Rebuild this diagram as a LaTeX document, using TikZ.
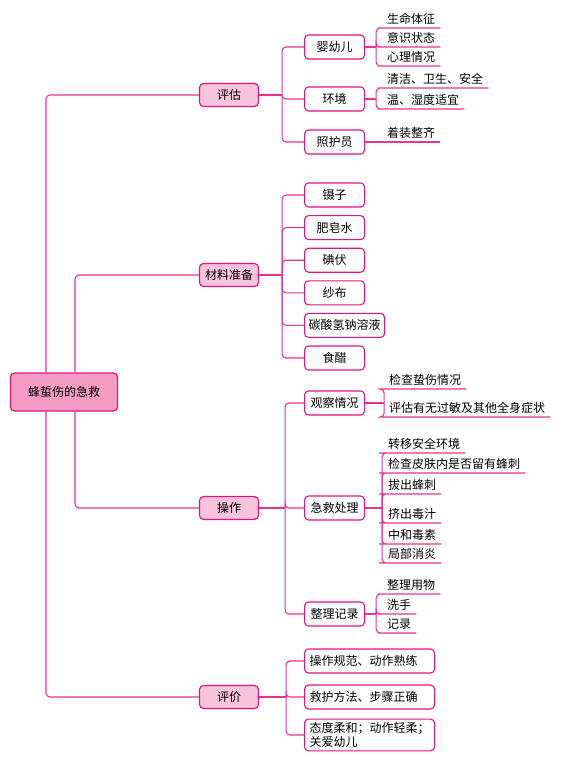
\documentclass[tikz,border=0pt]{standalone}
\usepackage{fontspec}
\setmainfont{Noto Sans CJK SC}
\usepackage{tikz}
\usetikzlibrary{positioning}

\definecolor{bordo}{HTML}{E3127E}
\definecolor{linea}{HTML}{E8348C}
\definecolor{rosa}{HTML}{F29CC3}
\definecolor{rosachiaro}{HTML}{F7C4DB}

\tikzset{
  link/.style={draw=linea, line width=1.1pt, rounded corners=4pt},
  radice/.style={draw=bordo, fill=rosa, line width=1.2pt, rounded corners=4pt,
    minimum width=107pt, minimum height=38pt},
  ramo/.style={draw=bordo, fill=rosachiaro, line width=1.1pt, rounded corners=4pt,
    minimum width=59pt, minimum height=23pt, inner xsep=4pt},
  voce/.style={draw=bordo, fill=white, line width=1.1pt, rounded corners=4pt,
    minimum width=60pt, minimum height=24pt, inner xsep=4pt, anchor=west},
  vocelunga/.style={voce, text width=120pt, inner xsep=5pt, align=left},
  nota/.style={inner xsep=5pt, inner ysep=4pt, text depth=0pt, anchor=south west},
}

\begin{document}
\begin{tikzpicture}[x=1pt, y=-1pt, font=\fontsize{12}{14}\selectfont]
  \useasboundingbox (0,0) rectangle (562,763);

  % radice e primo livello
  \node[radice] (root) at (64,392) {蜂蜇伤的急救};
  \node[ramo] (pg) at (229,95) {评估};
  \node[ramo] (zb) at (229,275) {材料准备};
  \node[ramo] (cz) at (229,508) {操作};
  \node[ramo] (pj) at (229,697) {评价};

  \coordinate (ta) at (46,0);
  \coordinate (tb) at (75,0);
  \draw[link] (root.north -| ta) |- (pg.west);
  \draw[link] (root.south -| ta) |- (pj.west);
  \draw[link] (root.north -| tb) |- (zb.west);
  \draw[link] (root.south -| tb) |- (cz.west);

  % 评估
  \node[voce] (yy) at (304,47) {婴幼儿};
  \node[voce] (hj) at (304,99) {环境};
  \node[voce] (zh) at (304,142) {照护员};
  \path (pg.east) ++(23,0) coordinate (pgT);
  \draw[link] (pg.east) -- (pgT);
  \foreach \n in {yy,hj,zh}
    \draw[link] (pgT) |- (\n.west);

  \node[nota] (a1) at (382,28) {生命体征};
  \node[nota] (a2) at (382,47) {意识状态};
  \node[nota] (a3) at (382,66) {心理情况};
  \path (yy.east) ++(11,0) coordinate (yyT);
  \draw[link] (yy.east) -- (yyT);
  \foreach \n in {a1,a2,a3}
    \draw[link] (yyT) |- (\n.south west) -- (\n.south east);

  \node[nota] (b1) at (382,88) {清洁、卫生、安全};
  \node[nota] (b2) at (382,109) {温、湿度适宜};
  \path (hj.east) ++(11,0) coordinate (hjT);
  \draw[link] (hj.east) -- (hjT);
  \foreach \n in {b1,b2}
    \draw[link] (hjT) |- (\n.south west) -- (\n.south east);

  \node[nota] (c1) at (382,142) {着装整齐};
  \draw[link] (zh.east) -- (c1.south west) -- (c1.south east);

  % 材料准备
  \node[voce] (m1) at (304,195) {镊子};
  \node[voce, below right=7.5pt and 0pt of m1.south west] (m2) {肥皂水};
  \node[voce, below right=7.5pt and 0pt of m2.south west] (m3) {碘伏};
  \node[voce, below right=7.5pt and 0pt of m3.south west] (m4) {纱布};
  \node[voce, below right=7.5pt and 0pt of m4.south west] (m5) {碳酸氢钠溶液};
  \node[voce, below right=7.5pt and 0pt of m5.south west] (m6) {食醋};
  \path (zb.east) ++(23,0) coordinate (zbT);
  \draw[link] (zb.east) -- (zbT);
  \foreach \n in {m1,m2,m3,m4,m5,m6}
    \draw[link] (zbT) |- (\n.west);

  % 操作
  \node[voce] (o1) at (304,403) {观察情况};
  \node[voce] (o2) at (304,508) {急救处理};
  \node[voce] (o3) at (304,614) {整理记录};
  \path (cz.east) ++(26,0) coordinate (czT);
  \draw[link] (cz.east) -- (czT);
  \foreach \n in {o1,o2,o3}
    \draw[link] (czT) |- (\n.west);

  \node[nota] (d1) at (384,389) {检查蛰伤情况};
  \node[nota] (d2) at (384,417) {评估有无过敏及其他全身症状};
  \path (o1.east) ++(19,0) coordinate (o1T);
  \draw[link] (o1.east) -- (o1T);
  \foreach \n in {d1,d2}
    \draw[link] (o1T) |- (\n.south west) -- (\n.south east);

  \node[nota] (e1) at (383,453) {转移安全环境};
  \node[nota] (e2) at (383,473) {检查皮肤内是否留有蜂刺};
  \node[nota] (e3) at (383,494) {拔出蜂刺};
  \node[nota] (e4) at (383,523) {挤出毒汁};
  \node[nota] (e5) at (383,544) {中和毒素};
  \node[nota] (e6) at (383,563) {局部消炎};
  \path (o2.east) ++(17,0) coordinate (o2T);
  \draw[link] (o2.east) -- (o2T);
  \foreach \n in {e1,e2,e3,e4,e5,e6}
    \draw[link] (o2T) |- (\n.south west) -- (\n.south east);

  \node[nota] (f1) at (382,594) {整理用物};
  \node[nota] (f2) at (382,614) {洗手};
  \node[nota] (f3) at (382,633) {记录};
  \path (o3.east) ++(11,0) coordinate (o3T);
  \draw[link] (o3.east) -- (o3T);
  \foreach \n in {f1,f2,f3}
    \draw[link] (o3T) |- (\n.south west) -- (\n.south east);

  % 评价
  \node[vocelunga] (p1) at (304,661) {操作规范、动作熟练};
  \node[vocelunga] (p2) at (304,697) {救护方法、步骤正确};
  \node[vocelunga] (p3) at (304,735) {态度柔和；动作轻柔；\\关爱幼儿};
  \path (pj.east) ++(27,0) coordinate (pjT);
  \draw[link] (pj.east) -- (pjT);
  \foreach \n in {p1,p2,p3}
    \draw[link] (pjT) |- (\n.west);
\end{tikzpicture}
\end{document}
